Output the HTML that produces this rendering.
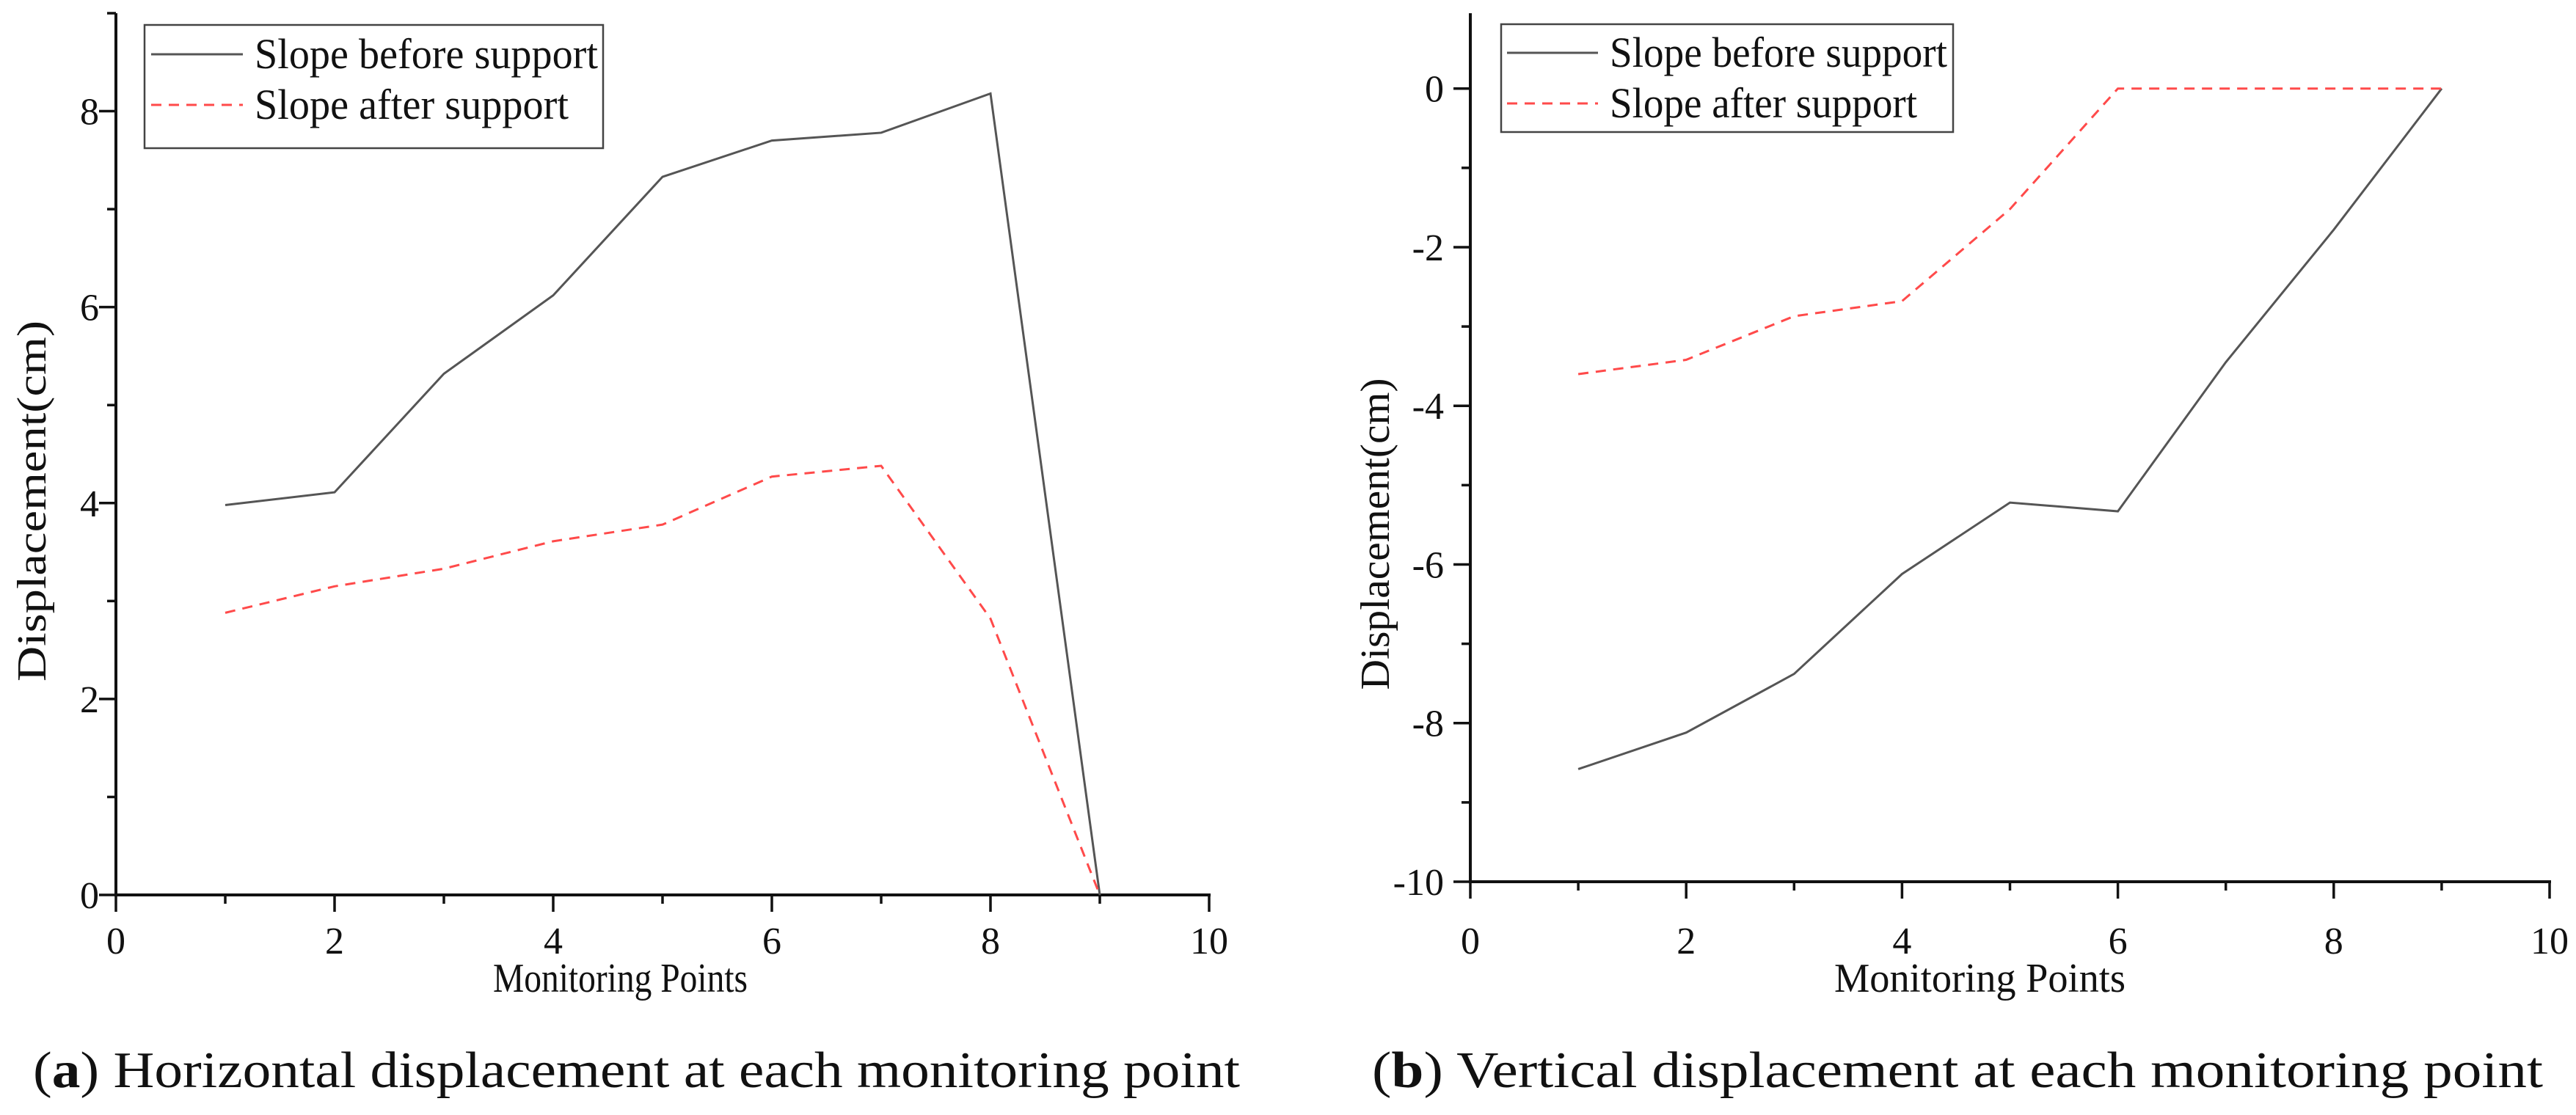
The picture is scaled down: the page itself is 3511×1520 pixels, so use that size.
<!DOCTYPE html>
<html><head><meta charset="utf-8"><style>
html,body{margin:0;padding:0;background:#fff;}
svg{display:block;}
text{font-family:"Liberation Serif",serif;fill:#111;}
</style></head><body>
<svg id="fig" width="3511" height="1520" viewBox="0 0 3511 1520" xmlns="http://www.w3.org/2000/svg"></svg>
<script>
const xCats = [1,2,3,4,5,6,7,8,9];
const aBefore = [3.98,4.11,5.32,6.12,7.33,7.70,7.78,8.18,0];
const aAfter = [2.88,3.15,3.33,3.61,3.78,4.27,4.38,2.82,0];
const bBefore = [-8.58,-8.12,-7.38,-6.12,-5.22,-5.33,-3.45,-1.78,0];
const bAfter = [-3.60,-3.42,-2.87,-2.68,-1.52,0,0,0,0];
const xTicks = [0,2,4,6,8,10];
const aYTicks = [0,2,4,6,8];
const bYTicks = [-10,-8,-6,-4,-2,0];
const legendLabels = ["Slope before support","Slope after support"];

const NS="http://www.w3.org/2000/svg";
const svg=document.getElementById('fig');
function el(tag,attrs,parent){const e=document.createElementNS(NS,tag);for(const k in attrs)e.setAttribute(k,attrs[k]);(parent||svg).appendChild(e);return e;}

function chart(cfg){
  const g=el('g',{});
  
  
  const sx=v=>cfg.x0+(v-0)/10*(cfg.x1-cfg.x0);
  const sy=v=>cfg.yb+(v-cfg.ymin)/(cfg.ymax-cfg.ymin)*(cfg.yt-cfg.yb);
  const xa=el('line',{x1:cfg.x0-2,y1:cfg.yb,x2:cfg.x1+2,y2:cfg.yb,stroke:'#111','stroke-width':4},g);
  
  
  const ya=el('line',{x1:cfg.x0,y1:cfg.yb+2,x2:cfg.x0,y2:sy(cfg.ytop),stroke:'#111','stroke-width':4},g);
  
  
  for(let v=0;v<=10;v++){
    const major=v%2===0;
    el('line',{x1:sx(v),y1:cfg.yb,x2:sx(v),y2:cfg.yb+(major?23:12),stroke:'#111','stroke-width':3.5},g);
  }
  xTicks.forEach(v=>{
    const t=el('text',{x:sx(v),y:1300,'font-size':52,'text-anchor':'middle'},g);
    t.textContent=v;
    
    
  });
  for(let v=cfg.ymin;v<=cfg.ytop;v++){
    const major=((v%2)+2)%2===0;
    el('line',{x1:cfg.x0,y1:sy(v),x2:cfg.x0-(major?23:12),y2:sy(v),stroke:'#111','stroke-width':3.5},g);
  }
  cfg.yTicks.forEach(v=>{
    const t=el('text',{x:cfg.ylx,y:sy(v)+18,'font-size':52,'text-anchor':'end'},g);
    t.textContent=v;
    
    
  });
  const xt=el('text',{x:cfg.xtx,y:1352,'font-size':56,textLength:cfg.xtl,lengthAdjust:'spacingAndGlyphs'},g);
  xt.textContent='Monitoring Points';
  
  
  const yt=el('text',{x:0,y:0,'font-size':56,'text-anchor':'middle',textLength:cfg.ytl,lengthAdjust:'spacingAndGlyphs',transform:`translate(${cfg.ytx},${cfg.yty}) rotate(-90)`},g);
  yt.textContent='Displacement(cm)';
  
  
  const p1=el('polyline',{points:xCats.map((c,i)=>sx(c)+','+sy(cfg.before[i])).join(' '),fill:'none',stroke:'#555','stroke-width':3},g);
  
  
  const p2=el('polyline',{points:xCats.map((c,i)=>sx(c)+','+sy(cfg.after[i])).join(' '),fill:'none',stroke:'#ff4a4a','stroke-width':3,'stroke-dasharray':'14 10'},g);
  
  
  const L=cfg.leg;
  const lg=el('g',{},g);
  
  
  el('rect',{x:L.x,y:L.y,width:L.w,height:L.h,fill:'#fff',stroke:'#444','stroke-width':2.5},lg);
  [0,1].forEach(i=>{
    const cy=L.r[i];
    el('line',{x1:L.lx1,y1:cy,x2:L.lx2,y2:cy,stroke:i?'#ff4a4a':'#555','stroke-width':3,'stroke-dasharray':i?'14 10':'none'},lg);
    const t=el('text',{x:L.tx,y:cy+19,'font-size':58,textLength:i?L.tl2:L.tl1,lengthAdjust:'spacingAndGlyphs'},lg);
    t.textContent=legendLabels[i];
    
    
  });
  const cap=el('text',{x:cfg.capx,y:1482,'font-size':70,textLength:cfg.capl,lengthAdjust:'spacingAndGlyphs'},g);
  cap.innerHTML=cfg.cap;
  
  
}

chart({name:'chart-horizontal',x0:158,x1:1648,yb:1220,yt:18,ymin:0,ymax:9,ytop:9,yTicks:aYTicks,before:aBefore,after:aAfter,
  ylx:135,xtx:672,xtl:347,ytx:62,yty:683,ytl:492,
  leg:{x:197,y:34,w:625,h:168,r:[74,143],lx1:206,lx2:331,tx:347,tl1:468,tl2:428},
  capx:45,capl:1645,cap:'(<tspan font-weight="bold">a</tspan>) Horizontal displacement at each monitoring point'});
chart({name:'chart-vertical',x0:2004,x1:3475,yb:1202,yt:18,ymin:-10,ymax:0.95,ytop:0.95,yTicks:bYTicks,before:bBefore,after:bAfter,
  ylx:1968,xtx:2500,xtl:397,ytx:1893,yty:728,ytl:425,
  leg:{x:2046,y:33,w:616,h:147,r:[72,141],lx1:2054,lx2:2178,tx:2194,tl1:460,tl2:419},
  capx:1870,capl:1596,cap:'(<tspan font-weight="bold">b</tspan>) Vertical displacement at each monitoring point'});
</script>
</body></html>
